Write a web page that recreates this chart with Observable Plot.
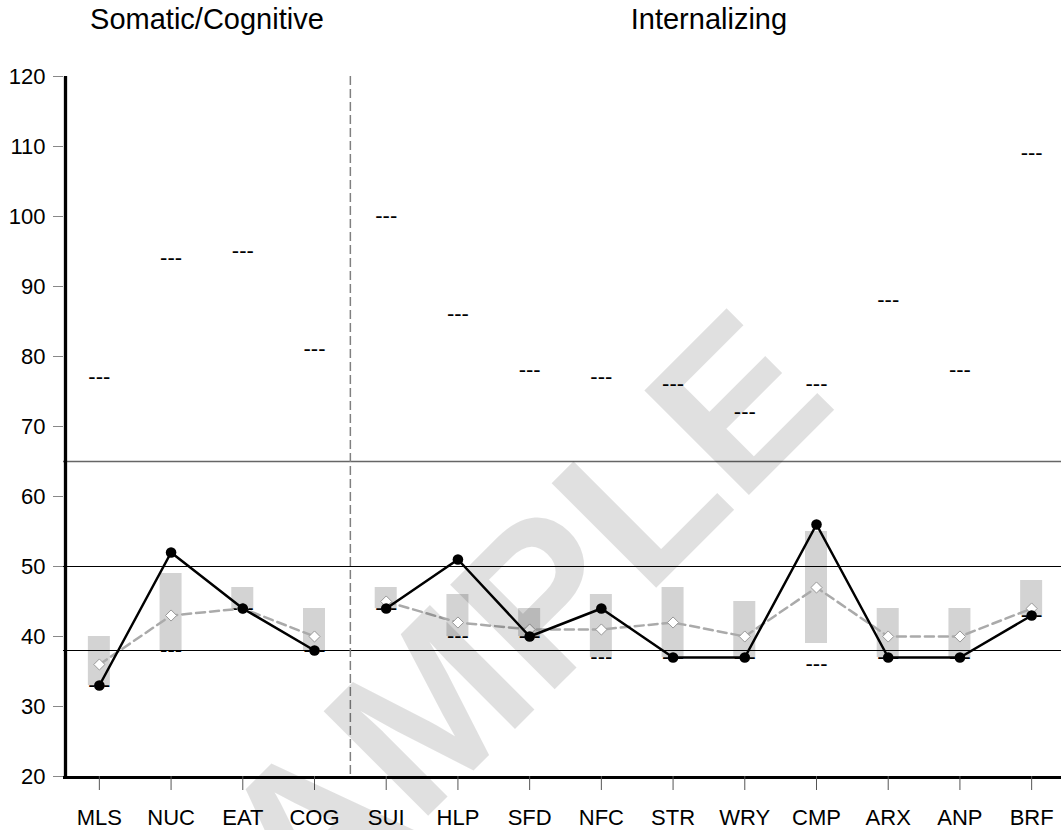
<!DOCTYPE html>
<html>
<head>
<meta charset="utf-8">
<script src="https://cdn.jsdelivr.net/npm/d3@7"></script>
<script src="https://cdn.jsdelivr.net/npm/@observablehq/plot@0.6"></script>
<style>
html, body { margin: 0; padding: 0; background: #fff; overflow: hidden; }
#chart svg { display: block; }
</style>
</head>
<body>
<div id="chart"></div>
<script>
// ---- data ----
const categories = ["MLS","NUC","EAT","COG","SUI","HLP","SFD","NFC","STR","WRY","CMP","ARX","ANP","BRF"];
const groupTitles = ["Somatic/Cognitive", "Internalizing"];
const groups = ["Somatic/Cognitive","Somatic/Cognitive","Somatic/Cognitive","Somatic/Cognitive",
  "Internalizing","Internalizing","Internalizing","Internalizing","Internalizing",
  "Internalizing","Internalizing","Internalizing","Internalizing","Internalizing"];
const scores     = [33, 52, 44, 38, 44, 51, 40, 44, 37, 37, 56, 37, 37, 43];
const means      = [36, 43, 44, 40, 45, 42, 41, 41, 42, 40, 47, 40, 40, 44];
const rangeLow   = [33, 38, 44, 38, 44, 40, 40, 37, 37, 37, 39, 37, 37, 43];
const rangeHigh  = [40, 49, 47, 44, 47, 46, 44, 46, 47, 45, 55, 44, 44, 48];
const upperMarks = [77, 94, 95, 81, 100, 86, 78, 77, 76, 72, 76, 88, 78, 109];
const lowerMarks = [33, 38, 44, 38, 44, 40, 40, 37, 37, 37, 36, 37, 37, 43];
const yTicks = [20, 30, 40, 50, 60, 70, 80, 90, 100, 110, 120];
const refLines = [65, 50, 38];
const markerGlyph = "---";
const watermark = "SAMPLE";
// title anchor categories (titles sit between these and the next category)
const titleAt = ["NUC", "STR"];

const rows = categories.map((c, i) => ({
  cat: c, group: groups[i], score: scores[i], mean: means[i],
  lo: rangeLow[i], hi: rangeHigh[i], up: upperMarks[i], low: lowerMarks[i]
}));
const titles = groupTitles.map((t, i) => ({title: t, at: titleAt[i]}));

const W = 1061, H = 830;
const mL = 63, xEnd = 1067;
const step = (xEnd - mL) / categories.length;
const barW = 22;
const font = "'Liberation Sans', Arial, Helvetica, sans-serif";

const chart = Plot.plot({
  width: W,
  height: H,
  marginLeft: mL,
  marginRight: 0,
  marginTop: 76,
  marginBottom: 54,
  style: {fontFamily: font, background: "white", color: "black"},
  x: {type: "band", domain: categories, range: [mL, xEnd], padding: 0, round: false},
  y: {domain: [yTicks[0], yTicks[yTicks.length - 1]]},
  marks: [
    // grey range bars
    Plot.barY(rows, {x: "cat", y1: "lo", y2: "hi", fill: "#d3d3d3",
      insetLeft: (step - barW) / 2, insetRight: (step - barW) / 2}),
    // reference lines
    Plot.ruleY([refLines[0]], {stroke: "#666", strokeWidth: 1.6}),
    Plot.ruleY(refLines.slice(1), {stroke: "#000", strokeWidth: 1}),
    // group separator
    Plot.ruleX([categories[3]], {dx: step / 2, stroke: "#808080", strokeWidth: 1.5, strokeDasharray: "9,4"}),
    // axes lines
    Plot.ruleX([categories[0]], {dx: -step / 2 + 2, stroke: "black", strokeWidth: 3.3}),
    Plot.ruleY([yTicks[0]], {stroke: "black", strokeWidth: 3, dy: 1}),
    Plot.axisY({ticks: yTicks, tickSize: 10, tickPadding: 8, fontSize: 22, stroke: "#888", fill: "black", label: null}),
    Plot.axisX({tickSize: 14, tickPadding: 19, fontSize: 22, stroke: "#555", fill: "black", label: null}),
    // --- markers
    Plot.text(rows, {x: "cat", y: "up", text: () => markerGlyph, fontSize: 22, lineAnchor: "middle", dy: -1, fill: "black"}),
    Plot.text(rows, {x: "cat", y: "low", text: () => markerGlyph, fontSize: 22, lineAnchor: "middle", dy: -1, fill: "black"}),
    // mean dashed line with diamonds
    Plot.lineY(rows, {x: "cat", y: "mean", z: "group", stroke: "#aaaaaa", strokeWidth: 2.5, strokeDasharray: "9,5"}),
    Plot.dot(rows, {x: "cat", y: "mean", symbol: "diamond2", r: 5, fill: "white", stroke: "#999", strokeWidth: 1}),
    // score line with dots
    Plot.lineY(rows, {x: "cat", y: "score", z: "group", stroke: "black", strokeWidth: 2.5}),
    Plot.dot(rows, {x: "cat", y: "score", r: 5.3, fill: "black"}),
    // group titles
    Plot.text(titles, {x: "at", dx: step / 2, text: "title", frameAnchor: "top", lineAnchor: "bottom", dy: -47.7, fontSize: 29, fill: "black"}),
    // watermark
    Plot.text([watermark], {frameAnchor: "top-left", dx: 523 - mL, dy: 720 - 76, rotate: -45,
      fontSize: 215, fontWeight: "bold", fill: "black", fillOpacity: 0.12,
      textAnchor: "middle", lineAnchor: "bottom", fontFamily: font})
  ]
});
document.getElementById("chart").appendChild(chart);
</script>
</body>
</html>
